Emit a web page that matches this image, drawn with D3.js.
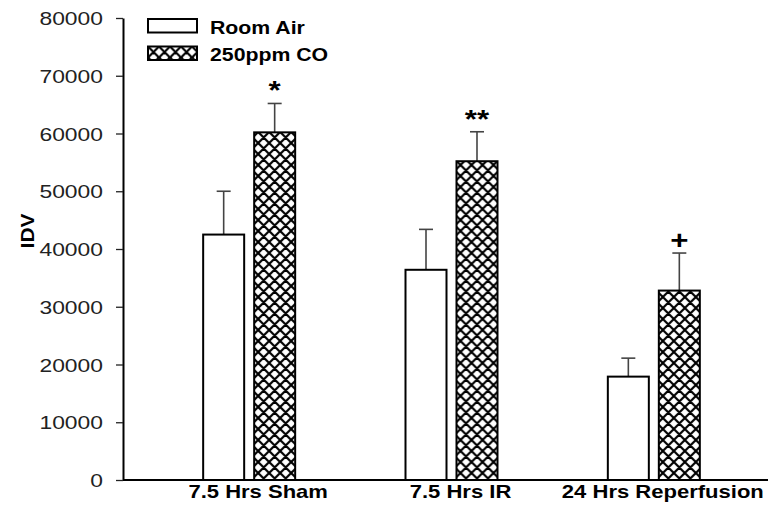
<!DOCTYPE html>
<html>
<head>
<meta charset="utf-8">
<script src="https://cdn.jsdelivr.net/npm/d3@7"></script>
<style>
  html, body { margin: 0; padding: 0; background: #fff; }
  svg { display: block; font-family: "Liberation Sans", Arial, sans-serif; }
</style>
</head>
<body>
<svg id="chart" width="768" height="510"></svg>
<script>
// ---- data ----
const categories = ["7.5 Hrs Sham", "7.5 Hrs IR", "24 Hrs Reperfusion"];
const seriesNames = ["Room Air", "250ppm CO"];
const roomAir = [42500, 36400, 17900];
const roomAirErr = [7500, 7000, 3200];
const co250 = [60200, 55200, 32800];
const co250Err = [5000, 5100, 6500];
const significance = ["*", "**", "+"];
const yTicks = [0, 10000, 20000, 30000, 40000, 50000, 60000, 70000, 80000];
const yLabel = "IDV";

// ---- layout ----
const svg = d3.select("#chart");
const axisX = 123, baseY = 480, topY = 18, rightX = 768;

const y = d3.scaleLinear().domain([0, 80000]).range([baseY, topY]);
const x0 = d3.scaleBand().domain(categories).range([148, 755]);
const groupW = 92;
const x1 = d3.scaleBand().domain(seriesNames).range([0, groupW]).paddingInner(0.196);
const groupStart = c => x0(c) + (x0.bandwidth() - groupW) / 2;

// hatch pattern
const defs = svg.append("defs");
const pat = defs.append("pattern")
  .attr("id", "xhatch").attr("patternUnits", "userSpaceOnUse")
  .attr("width", 11).attr("height", 11);
pat.append("rect").attr("width", 11).attr("height", 11).attr("fill", "#fff");
pat.append("path").attr("d", "M0,0 L11,11 M11,0 L0,11 M-1,10 L1,12 M10,-1 L12,1 M-1,1 L1,-1 M10,12 L12,10")
  .attr("stroke", "#000").attr("stroke-width", 2.2).attr("stroke-linecap", "square");

const data = categories.map((c, i) => ({
  cat: c,
  bars: [
    { s: seriesNames[0], v: roomAir[i], e: roomAirErr[i], fill: "#fff" },
    { s: seriesNames[1], v: co250[i], e: co250Err[i], fill: "url(#xhatch)" }
  ],
  sig: significance[i]
}));

// bars
const groups = svg.append("g").selectAll("g").data(data).join("g")
  .attr("transform", d => `translate(${groupStart(d.cat)},0)`);

groups.selectAll("line.err").data(d => d.bars).join("line")
  .attr("class", "err")
  .attr("x1", b => x1(b.s) + x1.bandwidth() / 2)
  .attr("x2", b => x1(b.s) + x1.bandwidth() / 2)
  .attr("y1", b => y(b.v)).attr("y2", b => y(b.v + b.e))
  .attr("stroke", "#444").attr("stroke-width", 1.6);
groups.selectAll("line.cap").data(d => d.bars).join("line")
  .attr("class", "cap")
  .attr("x1", b => x1(b.s) + x1.bandwidth() / 2 - 7)
  .attr("x2", b => x1(b.s) + x1.bandwidth() / 2 + 7)
  .attr("y1", b => y(b.v + b.e)).attr("y2", b => y(b.v + b.e))
  .attr("stroke", "#444").attr("stroke-width", 1.6);

groups.selectAll("rect").data(d => d.bars).join("rect")
  .attr("x", b => x1(b.s))
  .attr("y", b => y(b.v))
  .attr("width", x1.bandwidth())
  .attr("height", b => y(0) - y(b.v))
  .attr("fill", b => b.fill)
  .attr("stroke", "#000").attr("stroke-width", 2);

// significance marks
groups.append("text")
  .attr("transform", d => {
    const b = d.bars[1];
    return `translate(${x1(b.s) + x1.bandwidth() / 2},${y(b.v + b.e) - 4}) scale(1.2,1)`;
  })
  .attr("text-anchor", "middle")
  .attr("font-size", 26).attr("font-weight", "bold").attr("fill", "#000")
  .text(d => d.sig);

// y axis
const yAxis = d3.axisLeft(y).tickValues(yTicks).tickSize(7).tickSizeOuter(0).tickFormat(d3.format("d"));
const gy = svg.append("g").attr("transform", `translate(${axisX},0)`).call(yAxis);
gy.select(".domain").attr("stroke", "#000").attr("stroke-width", 2);
gy.selectAll(".tick line").attr("stroke", "#222").attr("stroke-width", 1.3);
gy.selectAll(".tick text")
  .attr("x", null).attr("dy", null)
  .attr("transform", "translate(-20,6.5) scale(1.27,1)")
  .attr("font-size", 18).attr("font-family", "Liberation Sans, Arial, sans-serif")
  .attr("fill", "#222").attr("text-anchor", "end");

// x axis baseline
svg.append("line")
  .attr("x1", axisX).attr("x2", rightX)
  .attr("y1", y(0)).attr("y2", y(0))
  .attr("stroke", "#000").attr("stroke-width", 2);

// x category labels
svg.append("g").selectAll("text").data(categories).join("text")
  .attr("transform", c => `translate(${x0(c) + x0.bandwidth() / 2 + 9},498) scale(1.16,1)`)
  .attr("text-anchor", "middle")
  .attr("font-size", 19).attr("font-weight", "bold").attr("fill", "#000")
  .text(c => c);

// y axis label
svg.append("text")
  .attr("transform", "translate(34,231) rotate(-90) scale(1.1,1)")
  .attr("text-anchor", "middle")
  .attr("font-size", 19).attr("font-weight", "bold").attr("fill", "#000")
  .text(yLabel);

// legend
const legend = svg.append("g");
const legendFills = ["#fff", "url(#xhatch)"];
seriesNames.forEach((s, i) => {
  const g = legend.append("g").attr("transform", `translate(148,${19 + i * 27.5})`);
  g.append("rect").attr("width", 49).attr("height", 13.5)
    .attr("fill", legendFills[i]).attr("stroke", "#000").attr("stroke-width", 2);
  g.append("text")
    .attr("transform", "translate(62,14.5) scale(1.12,1)")
    .attr("font-size", 19).attr("font-weight", "bold").attr("fill", "#000")
    .text(s);
});
</script>
</body>
</html>
